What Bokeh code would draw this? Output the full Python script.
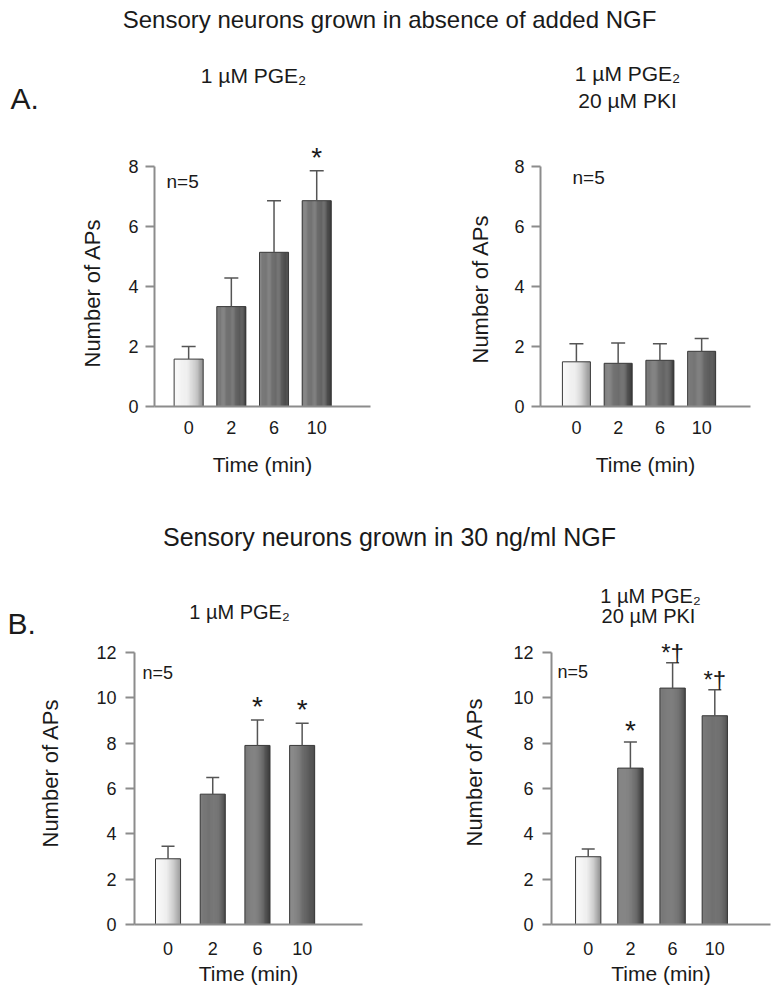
import numpy as np
from bokeh.plotting import figure
from bokeh.models import (ColumnDataSource, FixedTicker, Label, LabelSet,
                          Whisker, TeeHead, Range1d, Title)
from bokeh.layouts import column, row
from bokeh.embed import file_html
from bokeh.resources import INLINE
from bokeh.core.properties import value

FONT = "Liberation Sans"
TXT = "#1a1a1a"
AX = "#8c8c8c"

# ---------------- data ----------------
times = ["0", "2", "6", "10"]

a1_mean = [1.58, 3.33, 5.14, 6.86]
a1_sem = [0.42, 0.95, 1.72, 1.00]
a1_sig = ["", "", "", "*"]

a2_mean = [1.49, 1.44, 1.54, 1.84]
a2_sem = [0.60, 0.68, 0.55, 0.43]
a2_sig = ["", "", "", ""]

b1_mean = [2.90, 5.75, 7.90, 7.90]
b1_sem = [0.55, 0.73, 1.12, 0.98]
b1_sig = ["", "", "*", "*"]

b2_mean = [2.99, 6.90, 10.43, 9.21]
b2_sem = [0.34, 1.15, 1.12, 1.15]
b2_sig = ["", "*", "*†", "*†"]

a_yticks = [0, 2, 4, 6, 8]
b_yticks = [0, 2, 4, 6, 8, 10, 12]

title_a = "Sensory neurons grown in absence of added NGF"
title_b = "Sensory neurons grown in 30 ng/ml NGF"
sub_pge = ["1 µM PGE₂"]
sub_pge_pki = ["1 µM PGE₂", "20 µM PKI"]
n_text = "n=5"
y_label = "Number of APs"
x_label = "Time (min)"

# ---------------- styling helpers ----------------
DARK = [(0.0, 124), (0.45, 112), (0.75, 94), (0.92, 72), (1.0, 56)]
LIGHT = [(0.0, 250), (0.45, 238), (0.7, 208), (0.9, 165), (1.0, 142)]
BASE_K = 0.33   # correction so that y is the visual text baseline


def ramp(stops, t):
    v = int(round(np.interp(t, [s[0] for s in stops], [s[1] for s in stops])))
    return "#%02x%02x%02x" % (v, v, v)


def add_text(p, x, y, text, size, align="center"):
    p.add_layout(Label(x=x, y=y - BASE_K * size, x_units="canvas",
                       y_units="canvas", text=text,
                       text_font=FONT, text_font_size=f"{size}px",
                       text_align=align, text_baseline="alphabetic",
                       text_color=TXT))


def panel(mean, sem, sig, yticks, cfg):
    W, H = cfg["W"], cfg["H"]
    left, fw, fh = cfg["left"], cfg["fw"], cfg["fh"]
    p = figure(width=W, height=H, x_range=Range1d(*cfg["xr"]),
               y_range=Range1d(yticks[0], cfg["ytop"]),
               toolbar_location=None, output_backend="svg",
               min_border_left=left, min_border_right=W - left - fw,
               min_border_top=0, min_border_bottom=H - fh)
    p.outline_line_color = None
    p.grid.visible = False
    p.background_fill_color = "white"
    p.border_fill_color = "white"

    xs = np.arange(1, len(times) + 1)
    bw = cfg["bw"]
    N = 26
    sx, st, sc = [], [], []
    for i, (x, m) in enumerate(zip(xs, mean)):
        stops = LIGHT if i == 0 else DARK
        for k in range(N):
            t = (k + 0.5) / N
            sx.append(x - bw / 2 + t * bw)
            st.append(m)
            sc.append(ramp(stops, t))
    p.vbar(x=sx, top=st, bottom=0, width=bw / N * 1.3, fill_color=sc,
           line_color=None)
    p.vbar(x=xs, top=mean, bottom=0, width=bw, fill_color=None,
           line_color="#3a3a3a", line_width=1)

    upper = np.array(mean) + np.array(sem)
    sizes = [f"{cfg['star'] if s == '*' else cfg['star2']}px" for s in sig]
    src = ColumnDataSource(dict(x=xs, lower=mean, upper=upper, sig=sig,
                                size=sizes))
    p.add_layout(Whisker(source=src, base="x", lower="lower", upper="upper",
                         dimension="height", line_color="#555555",
                         line_width=1.5, lower_head=None,
                         upper_head=TeeHead(size=cfg["cap"],
                                            line_color="#555555",
                                            line_width=1.5),
                         level="annotation"))
    p.add_layout(LabelSet(x="x", y="upper", text="sig", source=src,
                          text_align="center", text_baseline="alphabetic",
                          y_offset=cfg["sig_off"], text_font=value(FONT),
                          text_font_size="size", text_color=TXT))

    yax = p.yaxis[0]
    yax.ticker = FixedTicker(ticks=yticks)
    yax.bounds = (yticks[0], yticks[-1])
    yax.major_tick_out = 9
    yax.major_tick_in = 0
    yax.major_label_standoff = cfg["ytick_std"]

    xax = p.xaxis[0]
    xax.ticker = FixedTicker(ticks=[int(x) for x in xs])
    xax.major_label_overrides = {int(x): t for x, t in zip(xs, times)}
    xax.axis_label = x_label
    xax.major_tick_out = 0
    xax.major_tick_in = 0
    xax.major_label_standoff = cfg["xtick_std"]
    xax.axis_label_standoff = cfg["xlab_std"]

    for ax in (xax, yax):
        ax.axis_line_color = AX
        ax.axis_line_width = 2
        ax.major_tick_line_color = AX
        ax.major_tick_line_width = 2
        ax.minor_tick_line_color = None
        ax.major_label_text_font = FONT
        ax.major_label_text_font_size = f"{cfg['tick']}px"
        ax.major_label_text_color = TXT
        ax.axis_label_text_font = FONT
        ax.axis_label_text_font_style = "normal"
        ax.axis_label_text_font_size = f"{cfg['xlab']}px"
        ax.axis_label_text_color = TXT

    p.add_layout(Title(text=y_label, align="left", offset=cfg["ylab_off"],
                       standoff=cfg["ylab_std"], text_font=FONT,
                       text_font_size=f"{cfg['ylab']}px",
                       text_font_style="normal", text_color=TXT), "left")

    add_text(p, cfg["n_xy"][0], cfg["n_xy"][1], n_text, cfg["n_size"],
             align="left")
    return p


def header(W, H, items):
    p = figure(width=W, height=H, x_axis_type=None, y_axis_type=None,
               x_range=(0, 1), y_range=(0, 1), toolbar_location=None,
               output_backend="svg", min_border=0)
    p.outline_line_color = None
    p.background_fill_color = "white"
    for (x, y, text, size, align) in items:
        add_text(p, x, y, text, size, align=align)
    return p


B_TOP = 640          # page y where the B-row panels start
B_12 = 652           # page y of the top tick (12) in the B-row panels
B_ZERO = 924         # page y of value 0 in the B-row panels
B_PX = (B_ZERO - B_12) / 12.0
B_H = 990 - B_TOP

cfg_a1 = dict(W=389, H=360, left=154, fw=216, fh=266, ytop=8 + 26 / 30,
              xr=(0.2, 5.26), bw=0.68, cap=14, star=28, star2=24, sig_off=4,
              tick=18, xlab=21, ylab=22, ytick_std=7, ylab_std=41, ylab_off=39,
              xtick_std=14, xlab_std=16, n_xy=(166, 47), n_size=19)
cfg_a2 = dict(W=389, H=360, left=151, fw=210, fh=266, ytop=8 + 26 / 30,
              xr=(0.14, 5.17), bw=0.67, cap=14, star=28, star2=24, sig_off=4,
              tick=18, xlab=21, ylab=22, ytick_std=7, ylab_std=37, ylab_off=43,
              xtick_std=14, xlab_std=16, n_xy=(183, 43), n_size=19)
cfg_b1 = dict(W=389, H=B_H, left=134, fw=228, fh=B_ZERO - B_TOP,
              ytop=12 + (B_12 - B_TOP) / B_PX,
              xr=(0.25, 5.35), bw=0.56, cap=13, star=28, star2=24, sig_off=4,
              tick=18, xlab=21, ylab=22, ytick_std=9, ylab_std=61, ylab_off=77,
              xtick_std=17, xlab_std=4, n_xy=(142, 678 - B_TOP), n_size=18)
cfg_b2 = dict(W=389, H=B_H, left=162, fw=219, fh=B_ZERO - B_TOP,
              ytop=12 + (B_12 - B_TOP) / B_PX,
              xr=(0.13, 5.32), bw=0.6, cap=13, star=28, star2=24, sig_off=2,
              tick=18, xlab=21, ylab=22, ytick_std=9, ylab_std=47, ylab_off=78,
              xtick_std=17, xlab_std=4, n_xy=(168, 677 - B_TOP), n_size=18)

pa1 = panel(a1_mean, a1_sem, a1_sig, a_yticks, cfg_a1)
pa2 = panel(a2_mean, a2_sem, a2_sig, a_yticks, cfg_a2)
pb1 = panel(b1_mean, b1_sem, b1_sig, b_yticks, cfg_b1)
pb2 = panel(b2_mean, b2_sem, b2_sig, b_yticks, cfg_b2)

ha = header(778, 140, [(389, 27, title_a, 24, "center"),
                       (10, 108, "A.", 30, "left"),
                       (253, 82, sub_pge[0], 21, "center"),
                       (627, 80, sub_pge_pki[0], 21, "center"),
                       (627, 107, sub_pge_pki[1], 21, "center")])
hb = header(778, B_TOP - 500, [(389, 45, title_b, 25, "center"),
                               (7, 133, "B.", 30, "left"),
                               (239, 118, sub_pge[0], 20, "center"),
                               (650, 102, sub_pge_pki[0], 20, "center"),
                               (648, 122, sub_pge_pki[1], 20, "center")])

layout = column(ha, row(pa1, pa2), hb, row(pb1, pb2))

open("out.html", "w").write(file_html(layout, INLINE))
